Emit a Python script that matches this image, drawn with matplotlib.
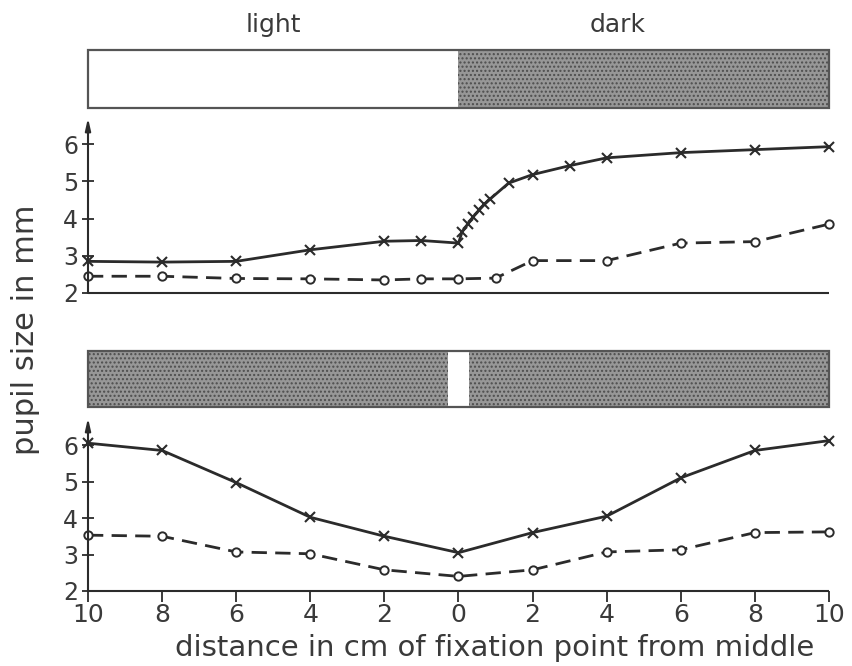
import matplotlib
matplotlib.use("Agg")
import matplotlib.pyplot as plt
from matplotlib.patches import Rectangle

# ---------------- data ----------------
# top panel (light left, dark right)
top_x_solid = [-10, -8, -6, -4, -2, -1, 0, 0.1, 0.25, 0.4, 0.55, 0.7, 0.85, 1.35, 2, 3, 4, 6, 8, 10]
top_y_solid = [2.85, 2.83, 2.85, 3.16, 3.39, 3.41, 3.34, 3.65, 3.85, 4.05, 4.22, 4.38, 4.52, 4.95, 5.18, 5.42, 5.63, 5.77, 5.85, 5.93]
top_x_dash = [-10, -8, -6, -4, -2, -1, 0, 1, 2, 4, 6, 8, 10]
top_y_dash = [2.45, 2.45, 2.39, 2.38, 2.35, 2.38, 2.38, 2.40, 2.87, 2.87, 3.34, 3.38, 3.85]

# bottom panel (dark with small light slit in middle)
bot_x = [-10, -8, -6, -4, -2, 0, 2, 4, 6, 8, 10]
bot_y_solid = [6.05, 5.85, 4.97, 4.02, 3.50, 3.05, 3.60, 4.05, 5.10, 5.85, 6.12]
bot_y_dash = [3.53, 3.50, 3.07, 3.02, 2.58, 2.40, 2.58, 3.07, 3.13, 3.60, 3.62]

x_ticks = [-10, -8, -6, -4, -2, 0, 2, 4, 6, 8, 10]
x_ticklabels = ["10", "8", "6", "4", "2", "0", "2", "4", "6", "8", "10"]
y_ticks = [2, 3, 4, 5, 6]

top_labels = ["light", "dark"]
xlabel = "distance in cm of fixation point from middle"
ylabel = "pupil size in mm"

# ---------------- style ----------------
W, H = 853, 666
INK = "#2b2b2b"
TXT = "#3a3a3a"
plt.rcParams["font.family"] = ["DejaVu Sans"]

fig = plt.figure(figsize=(W / 100, H / 100), dpi=100)

def fax(l, t, r, b):
    return fig.add_axes([l / W, 1 - b / H, (r - l) / W, (b - t) / H])

XL, XR = 88, 829

def strip(ax, segments):
    ax.set_xlim(-10, 10)
    ax.set_ylim(0, 1)
    ax.axis("off")
    for (x0, x1, dark) in segments:
        if dark:
            ax.add_patch(Rectangle((x0, 0), x1 - x0, 1, facecolor="#979797",
                                   edgecolor="#4d4d4d", hatch="....", linewidth=0))
    ax.add_patch(Rectangle((-10, 0), 20, 1, fill=False, edgecolor="#555555",
                           linewidth=1.6, clip_on=False))

def panel(ax, ytop):
    ax.set_xlim(-10, 10)
    ax.set_ylim(2, ytop)
    for s in ["top", "right", "left", "bottom"]:
        ax.spines[s].set_visible(False)
    ax.annotate("", xy=(0, 1.0), xytext=(0, 0), xycoords="axes fraction",
                arrowprops=dict(arrowstyle="-|>,head_length=0.7,head_width=0.16",
                                color=INK, lw=1.5, shrinkA=0, shrinkB=0))
    ax.plot([0, 1], [0, 0], transform=ax.transAxes, color=INK, lw=1.5,
            clip_on=False, solid_capstyle="butt")
    ax.set_yticks(y_ticks)
    ax.tick_params(axis="y", direction="inout", length=8, width=1.3, color=INK,
                   labelsize=17, labelcolor=TXT, pad=3)

# top strip
ax_s1 = fax(XL, 50, XR, 108)
strip(ax_s1, [(-10, 0, False), (0, 10, True)])
ax_s1.text(-5, 1.22, top_labels[0], ha="center", va="bottom", fontsize=18, color=TXT)
ax_s1.text(4.3, 1.22, top_labels[1], ha="center", va="bottom", fontsize=18, color=TXT)

# top plot
ax1 = fax(XL, 118, XR, 293)
panel(ax1, 6.7)
ax1.set_xticks([])
ax1.plot(top_x_solid, top_y_solid, color=INK, lw=2.0, marker="x", ms=7, mew=1.5,
         clip_on=False)
ax1.plot(top_x_dash, top_y_dash, color=INK, lw=2.0, dashes=(5.5, 3), marker="o",
         ms=6, mew=1.4, mfc="white", mec=INK, clip_on=False)

# bottom strip
ax_s2 = fax(XL, 351, XR, 407)
strip(ax_s2, [(-10, -0.27, True), (0.27, 10, True)])

# bottom plot
ax2 = fax(XL, 418, XR, 591)
panel(ax2, 6.74)
ax2.set_xticks(x_ticks)
ax2.set_xticklabels(x_ticklabels)
ax2.tick_params(axis="x", direction="out", length=8, width=1.3, color=INK,
                labelsize=18, labelcolor=TXT, pad=1)
ax2.plot(bot_x, bot_y_solid, color=INK, lw=2.0, marker="x", ms=7, mew=1.5,
         clip_on=False)
ax2.plot(bot_x, bot_y_dash, color=INK, lw=2.0, dashes=(5.5, 3), marker="o",
         ms=6, mew=1.4, mfc="white", mec=INK, clip_on=False)
fig.text(495 / W, 1 - 648 / H, xlabel, ha="center", va="center",
         fontsize=21, color=TXT)

fig.text(26 / W, 1 - 330 / H, ylabel, rotation=90, ha="center", va="center",
         fontsize=22, color=TXT)

fig.savefig("out.png", dpi=100)
